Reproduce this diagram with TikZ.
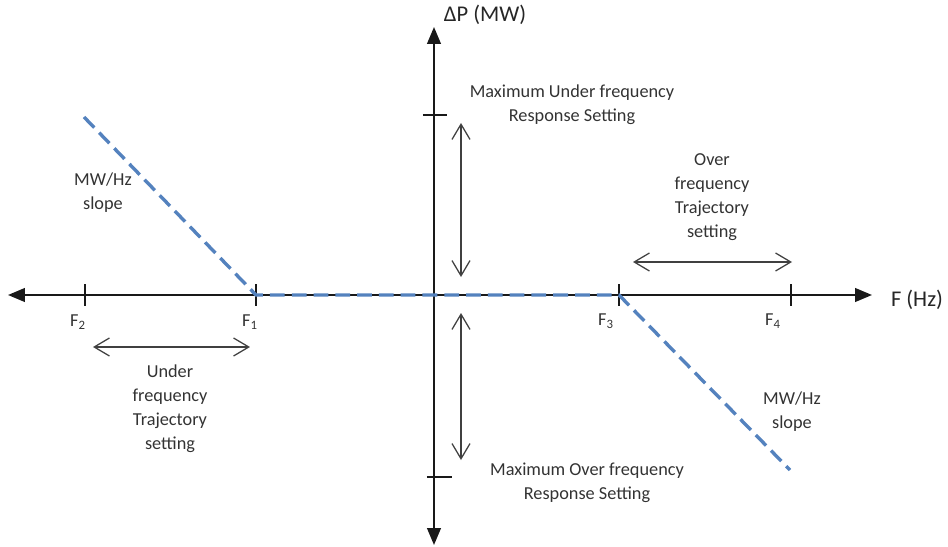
\documentclass[tikz,border=0pt]{standalone}
\usepackage{fontspec}
\setmainfont{Carlito}
\usetikzlibrary{arrows.meta, positioning}
\definecolor{slopeblue}{RGB}{84,130,190}

\begin{document}
\begin{tikzpicture}
    \tikzstyle{axis} = [draw, line width=1.4pt, black!90, >={Triangle[length=0.42cm, width=0.34cm]}, <->];
    \tikzstyle{tickmark} = [draw, line width=1.4pt, black!90];
    \tikzstyle{rangearrow} = [draw, line width=0.9pt, black!75, {Straight Barb[length=0.38cm, width=0.45cm]}-{Straight Barb[length=0.38cm, width=0.45cm]}];
    \tikzstyle{slopeline} = [draw, line width=2.4pt, slopeblue, dash pattern=on 10.5pt off 5pt];
    \tikzstyle{note} = [align=center, text=black!80, font=\fontsize{13}{17}\selectfont];
    \tikzstyle{flabel} = [text=black!80, font=\fontsize{13}{17}\selectfont];
    \tikzstyle{axislabel} = [text=black!85, font=\fontsize{16}{20}\selectfont];

    \useasboundingbox (-10.85, 7.375) rectangle (12.85, -6.275);

    \coordinate (O) at (0, 0);
    \coordinate (W) at (-10.65, 0);
    \coordinate (E) at (10.95, 0);
    \coordinate (N) at (0, 6.7);
    \coordinate (S) at (0, -6.25);

    \coordinate (f2) at (-8.725, 0);
    \coordinate (f1) at (-4.45, 0);
    \coordinate (f3) at (4.625, 0);
    \coordinate (f4) at (8.925, 0);
    \coordinate (pmax) at (0, 4.5);
    \coordinate (pmin) at (0, -4.55);

    \draw[axis] (W) -- (E);
    \draw[axis] (S) -- (N);

    \foreach \f in {f1, f2, f3, f4}
        \draw[tickmark] ([yshift=0.27cm]\f) -- ([yshift=-0.27cm]\f);
    \draw[tickmark] ([xshift=-0.28cm]pmax) -- ([xshift=0.33cm]pmax);
    \draw[tickmark] ([xshift=-0.18cm]pmin) -- ([xshift=0.45cm]pmin);

    \node[flabel] (F2) at (-8.9, -0.68) {F\textsubscript{2}};
    \node[flabel] (F1) at (-4.6, -0.68) {F\textsubscript{1}};
    \node[flabel] (F3) at (4.3, -0.65) {F\textsubscript{3}};
    \node[flabel] (F4) at (8.475, -0.65) {F\textsubscript{4}};

    \node[axislabel] (xlabel) at (12.075, -0.125) {F (Hz)};
    \node[axislabel] (ylabel) at (1.275, 7.0) {ΔP (MW)};

    \coordinate (s1) at (-8.75, 4.45);
    \coordinate (s2) at (8.9, -4.375);
    \draw[slopeline] (s1) -- (f1) -- (f3) -- (s2);

    \coordinate (up1) at (0.675, 0.45);
    \coordinate (up2) at (0.675, 4.3);
    \coordinate (dn1) at (0.675, -0.45);
    \coordinate (dn2) at (0.675, -4.125);
    \coordinate (uf1) at (-8.525, -1.3);
    \coordinate (uf2) at (-4.6, -1.3);
    \coordinate (of1) at (4.975, 0.825);
    \coordinate (of2) at (8.95, 0.825);

    \draw[rangearrow] (up1) -- (up2);
    \draw[rangearrow] (dn1) -- (dn2);
    \draw[rangearrow] (uf1) -- (uf2);
    \draw[rangearrow] (of1) -- (of2);

    \node[note] (maxunder) at (3.45, 4.76) {Maximum Under frequency\\Response Setting};
    \node[note] (maxover) at (3.825, -4.69) {Maximum Over frequency\\Response Setting};
    \node[note] (overtraj) at (6.95, 2.45) {Over\\frequency\\Trajectory\\setting};
    \node[note] (undertraj) at (-6.6, -2.84) {Under\\frequency\\Trajectory\\setting};
    \node[note] (slopeleft) at (-8.275, 2.55) {MW/Hz\\slope};
    \node[note] (sloperight) at (8.95, -2.91) {MW/Hz\\slope};
\end{tikzpicture}
\end{document}
